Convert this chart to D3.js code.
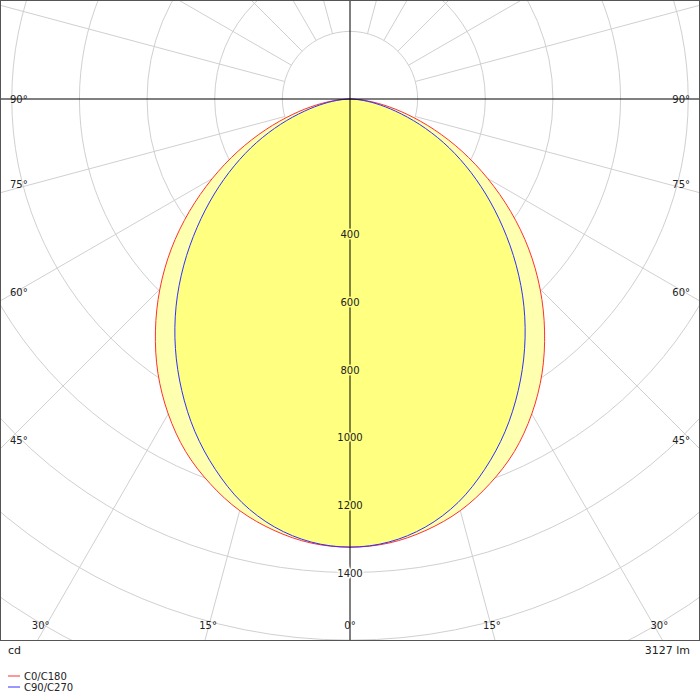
<!DOCTYPE html><html><head><meta charset="utf-8"><script src="https://cdn.jsdelivr.net/npm/d3@7"></script>
<style>body{margin:0;background:#fff}svg{display:block;font-family:"DejaVu Sans",sans-serif}</style></head><body><script>
const angles=[0,5,10,15,20,25,30,35,40,45,50,55,60,65,70,75,80,85,90];
const c0=[1325,1318,1295,1260,1210,1150,1075,990,895,795,690,580,470,365,265,175,100,40,0];
const c90=[1325,1315,1285,1235,1165,1085,995,900,800,695,590,490,395,305,218,140,78,30,0];
const radTicks=[400,600,800,1000,1200,1400];
const angleLabels=[90,75,60,45,30,15,0];
const W=700,H=700,cx=350,cy=99,plotB=640;
const svg=d3.select("body").append("svg").attr("width",W).attr("height",H);
const r=d3.scaleLinear().domain([0,1400]).range([0,473.5]);
svg.append("clipPath").attr("id","c").append("rect").attr("width",W).attr("height",plotB);
const g=svg.append("g").attr("clip-path","url(#c)");
const pt=(a,v)=>[cx+Math.sin(a*Math.PI/180)*r(v),cy+Math.cos(a*Math.PI/180)*r(v)];
d3.range(200,2200,200).forEach(v=>g.append("circle").attr("cx",cx).attr("cy",cy).attr("r",r(v)).attr("fill","none").attr("stroke","#d0d0d0"));
d3.range(-180,180,15).forEach(a=>{if(a%90===0)return;const p0=pt(a,200),p1=pt(a,3000);
g.append("line").attr("x1",p0[0]).attr("y1",p0[1]).attr("x2",p1[0]).attr("y2",p1[1]).attr("stroke","#d0d0d0");});
function shape(vals){const pts=[];for(let i=angles.length-1;i>=1;i--)pts.push(pt(-angles[i],vals[i]));
angles.forEach((a,i)=>pts.push(pt(a,vals[i])));return pts;}
const line=d3.line().curve(d3.curveCatmullRomClosed);
g.append("path").attr("d",line(shape(c0))).attr("fill","#ffffb0");
g.append("path").attr("d",line(shape(c90))).attr("fill","#ffff80");
g.append("path").attr("d",line(shape(c0))).attr("fill","none").attr("stroke","#ff3030");
g.append("path").attr("d",line(shape(c90))).attr("fill","none").attr("stroke","#3030ff");
g.append("line").attr("x1",0).attr("x2",W).attr("y1",cy).attr("y2",cy).attr("stroke","#000");
g.append("line").attr("x1",cx).attr("x2",cx).attr("y1",0).attr("y2",plotB).attr("stroke","#000");
radTicks.forEach(v=>svg.append("text").attr("x",cx).attr("y",cy+r(v)+4).attr("text-anchor","middle").attr("font-size",10).attr("fill","#222")
 .attr("paint-order","stroke").attr("stroke",v>c0[0]?"#fff":"#ffff80").attr("stroke-width",3).text(v));
angleLabels.forEach(a=>{const t=Math.tan(a*Math.PI/180);
 if(a>=45){const y=a===90?cy+4:cy+350/t-5;
  svg.append("text").attr("x",10).attr("y",y).attr("font-size",10).attr("fill","#222").text(a+"°");
  svg.append("text").attr("x",690).attr("y",y).attr("text-anchor","end").attr("font-size",10).attr("fill","#222").text(a+"°");}
 else{const dx=(plotB-cy)*t+(a>0?-3:0);[-1,1].forEach(s=>{if(a===0&&s>0)return;
  svg.append("text").attr("x",cx+s*dx).attr("y",629).attr("text-anchor","middle").attr("font-size",10).attr("fill","#222").text(a+"°");});}});
svg.append("rect").attr("x",0.5).attr("y",0.5).attr("width",W-1).attr("height",plotB).attr("fill","none").attr("stroke","#555");
svg.append("text").attr("x",8).attr("y",654).attr("font-size",11).attr("fill","#222").text("cd");
svg.append("text").attr("x",690).attr("y",654).attr("text-anchor","end").attr("font-size",11).attr("fill","#222").text("3127 lm");
[["C0/C180","#ff3030"],["C90/C270","#3030ff"]].forEach((d,i)=>{const y=676+i*11;
 svg.append("line").attr("x1",8).attr("x2",20).attr("y1",y).attr("y2",y).attr("stroke",d[1]);
 svg.append("text").attr("x",24).attr("y",y+4).attr("font-size",10).attr("fill","#222").text(d[0]);});
</script></body></html>
